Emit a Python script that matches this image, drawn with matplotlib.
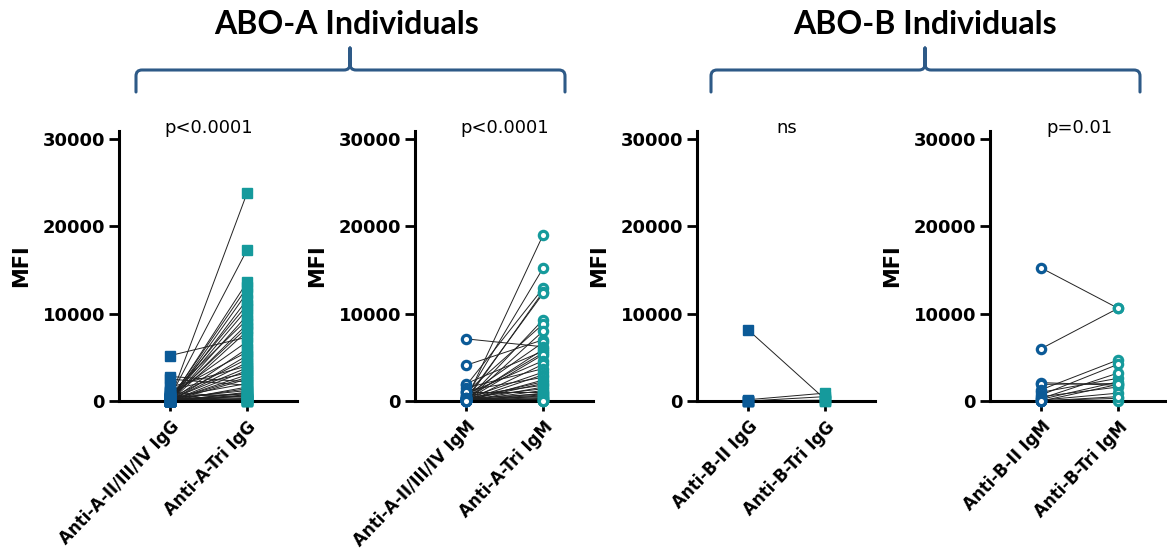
"""Paired MFI plots, ABO-A and ABO-B individuals."""
import matplotlib
matplotlib.use("Agg")
import matplotlib.pyplot as plt
from matplotlib.path import Path
from matplotlib.patches import PathPatch

BLUE = "#0b5a97"
TEAL = "#159a9c"
BRACE = "#2e5a87"

# ABO-A, IgG (paired: left[i] -> right[i])
a_igg_cats = ["Anti-A-II/III/IV IgG", "Anti-A-Tri IgG"]
a_igg_left = [300, 500, 100, 200, 50, 0, 400, 150, 0, 800,
              100, 250, 0, 5200, 600, 50, 1000, 0, 300, 100,
              1600, 200, 0, 1300, 50, 100, 0, 2800, 400, 2500,
              0, 150, 300, 0, 50, 500, 100, 0, 200, 1000,
              0, 50, 300, 0, 100, 0, 600, 0, 200, 0]
a_igg_right = [23800, 17300, 13600, 13000, 12400, 11600, 11000, 10500, 9800, 9300,
               8800, 8400, 8000, 7300, 6800, 6000, 5600, 5200, 4800, 4400,
               4000, 3800, 3500, 3200, 3000, 2700, 2500, 2200, 2000, 1800,
               1600, 1400, 1200, 1000, 900, 800, 700, 600, 500, 400,
               300, 250, 200, 150, 100, 80, 50, 20, 0, 0]

# ABO-A, IgM
a_igm_cats = ["Anti-A-II/III/IV IgM", "Anti-A-Tri IgM"]
a_igm_left = [200, 500, 1800, 100, 300, 50, 1000, 0, 4100, 600,
              7100, 200, 2000, 400, 100, 800, 0, 1500, 300, 50,
              1200, 0, 200, 100, 600, 0, 400, 50, 1000, 0,
              300, 100, 0, 200, 50, 0, 100, 0, 300, 0, 50, 0]
a_igm_right = [19000, 15200, 12900, 12500, 12300, 9300, 8800, 8000, 7000, 6700,
               6200, 5900, 5700, 5500, 5300, 4600, 4200, 3700, 3300, 3000,
               2700, 2400, 2200, 2000, 1800, 1600, 1400, 1200, 1000, 900,
               800, 700, 600, 500, 400, 300, 200, 150, 100, 50, 0, 0]

# ABO-B, IgG
b_igg_cats = ["Anti-B-II IgG", "Anti-B-Tri IgG"]
b_igg_left = [8100, 150, 0, 0, 0, 0]
b_igg_right = [200, 900, 500, 100, 0, 0]

# ABO-B, IgM
b_igm_cats = ["Anti-B-II IgM", "Anti-B-Tri IgM"]
b_igm_left = [15200, 6000, 2100, 1900, 1300, 1000, 700, 500, 300, 200, 100, 50, 0, 0, 0]
b_igm_right = [10600, 10600, 1800, 2000, 4700, 2600, 4200, 1600, 3200, 2200, 900, 300, 1900, 0, 500]

pvals = ["p<0.0001", "p<0.0001", "ns", "p=0.01"]
groups = ["ABO-A Individuals", "ABO-B Individuals"]

W, H = 1167, 553
fig = plt.figure(figsize=(W / 100, H / 100), dpi=100)

panels = [
    (119, a_igg_cats, a_igg_left, a_igg_right, "s", pvals[0]),
    (415, a_igm_cats, a_igm_left, a_igm_right, "o", pvals[1]),
    (697, b_igg_cats, b_igg_left, b_igg_right, "s", pvals[2]),
    (990, b_igm_cats, b_igm_left, b_igm_right, "o", pvals[3]),
]

bottom_px, top_px, width_px = 401, 131, 178
for left_px, cats, lv, rv, mk, ptxt in panels:
    ax = fig.add_axes([left_px / W, 1 - bottom_px / H, width_px / W, (bottom_px - top_px) / H])
    for a, b in zip(lv, rv):
        ax.plot([0, 1], [a, b], color="#222222", lw=0.7, zorder=2)
    if mk == "s":
        ax.plot([0] * len(lv), lv, ls="none", marker="s", ms=7, color=BLUE, mec=BLUE, zorder=3, clip_on=False)
        ax.plot([1] * len(rv), rv, ls="none", marker="s", ms=7, color=TEAL, mec=TEAL, zorder=3, clip_on=False)
    else:
        ax.plot([0] * len(lv), lv, ls="none", marker="o", ms=6, mfc="white", mec=BLUE, mew=2.3, zorder=3, clip_on=False)
        ax.plot([1] * len(rv), rv, ls="none", marker="o", ms=6, mfc="white", mec=TEAL, mew=2.3, zorder=3, clip_on=False)
    ax.set_xlim(-0.67, 1.65)
    ax.set_ylim(0, 30870)
    ax.set_yticks([0, 10000, 20000, 30000])
    ax.set_yticklabels(["0", "10000", "20000", "30000"], fontweight="bold", fontsize=13)
    ax.set_xticks([0, 1])
    ax.set_xticklabels(cats, rotation=46, ha="right", rotation_mode="anchor",
                       fontweight="bold", fontsize=12)
    ax.tick_params(axis="both", width=2, length=7, color="black", labelcolor="black", pad=3)
    ax.tick_params(axis="x", pad=5)
    for s in ["top", "right"]:
        ax.spines[s].set_visible(False)
    for s in ["left", "bottom"]:
        ax.spines[s].set_linewidth(2.2)
    ax.set_ylabel("MFI", fontweight="bold", fontsize=15, labelpad=8)
    ax.annotate(ptxt, xy=(0.5, 1.01), xycoords=("data", "axes fraction"),
                ha="center", va="center", fontsize=13)

# overlay in pixel coordinates for brackets and group titles
ov = fig.add_axes([0, 0, 1, 1], facecolor="none")
ov.set_xlim(0, W)
ov.set_ylim(H, 0)
ov.axis("off")


def brace(x0, x1, xm, y_end=92, y_bar=70, y_peak=48, r=6):
    verts = [(x0, y_end), (x0, y_bar + r), (x0, y_bar), (x0 + r, y_bar),
             (xm - r, y_bar), (xm, y_bar), (xm, y_bar - r), (xm, y_peak),
             (xm, y_peak), (xm, y_bar - r), (xm, y_bar), (xm + r, y_bar),
             (x1 - r, y_bar), (x1, y_bar), (x1, y_bar + r), (x1, y_end)]
    codes = [Path.MOVETO, Path.LINETO, Path.CURVE3, Path.CURVE3,
             Path.LINETO, Path.CURVE3, Path.CURVE3, Path.LINETO,
             Path.MOVETO, Path.LINETO, Path.CURVE3, Path.CURVE3,
             Path.LINETO, Path.CURVE3, Path.CURVE3, Path.LINETO]
    ov.add_patch(PathPatch(Path(verts, codes), fc="none", ec=BRACE, lw=2.2, capstyle="round"))


brace(136, 565, 350)
brace(711, 1140, 925)
ov.text(347, 24, groups[0], ha="center", va="center", fontsize=23, fontweight="bold", family="Lato")
ov.text(925, 24, groups[1], ha="center", va="center", fontsize=23, fontweight="bold", family="Lato")

fig.savefig("out.png", dpi=100)
